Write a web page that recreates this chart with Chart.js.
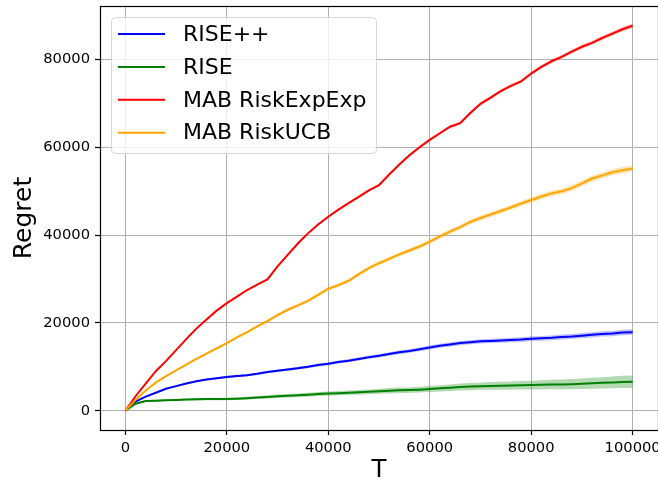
<!DOCTYPE html>
<html>
<head>
<meta charset="utf-8">
<script src="https://cdn.jsdelivr.net/npm/chart.js@4.4.0/dist/chart.umd.min.js"></script>
<style>
  html, body { margin: 0; padding: 0; background: #fff; }
  #regretChart { display: block; }
</style>
</head>
<body>
<canvas id="regretChart" width="658" height="482"></canvas>
<script>
// horizon T where the cumulative regret is logged
const T = [0, 2000, 4000, 6000, 8000, 10000, 12000, 14000, 16000, 18000,
           20000, 22000, 24000, 26000, 28000, 30000, 32000, 34000, 36000, 38000,
           40000, 42000, 44000, 46000, 48000, 50000, 52000, 54000, 56000, 58000,
           60000, 62000, 64000, 66000, 68000, 70000, 72000, 74000, 76000, 78000,
           80000, 82000, 84000, 86000, 88000, 90000, 92000, 94000, 96000, 98000, 100000];

const xTicks = [0, 20000, 40000, 60000, 80000, 100000];
const yTicks = [0, 20000, 40000, 60000, 80000];

// mean regret per algorithm
const risePlus = [0, 2100, 3200, 4100, 5000, 5600, 6200, 6700, 7100, 7400,
                  7700, 7900, 8100, 8400, 8800, 9100, 9400, 9700, 10000, 10400,
                  10700, 11100, 11400, 11800, 12200, 12500, 12900, 13300, 13600, 14000,
                  14400, 14800, 15100, 15400, 15600, 15800, 15900, 16000, 16100, 16200,
                  16400, 16500, 16600, 16800, 16900, 17100, 17300, 17500, 17600, 17800, 17900];
const rise = [0, 1600, 2200, 2300, 2400, 2450, 2550, 2600, 2650, 2650,
              2650, 2750, 2850, 3000, 3150, 3300, 3400, 3500, 3650, 3800,
              3900, 4000, 4100, 4200, 4300, 4450, 4550, 4650, 4700, 4800,
              4950, 5100, 5250, 5400, 5500, 5600, 5650, 5700, 5750, 5800,
              5850, 5900, 5950, 6000, 6050, 6150, 6250, 6350, 6450, 6550, 6600];
const riskExpExp = [0, 3300, 6200, 9000, 11300, 13800, 16300, 18700, 20800, 22800,
                    24500, 26000, 27500, 28700, 29900, 32900, 35500, 38100, 40400, 42400,
                    44200, 45800, 47300, 48700, 50200, 51400, 53800, 56100, 58200, 60000,
                    61700, 63200, 64700, 65500, 67800, 69900, 71300, 72800, 74000, 75000,
                    76800, 78300, 79600, 80600, 81800, 82900, 83800, 84900, 85900, 86900, 87700];
const riskUcb = [0, 2500, 4600, 6400, 7900, 9200, 10500, 11800, 13000, 14200,
                 15400, 16700, 17900, 19200, 20400, 21800, 23000, 24000, 25000, 26400,
                 27800, 28600, 29600, 31100, 32500, 33600, 34600, 35600, 36500, 37400,
                 38500, 39700, 40800, 41800, 43000, 43900, 44700, 45500, 46300, 47200,
                 48000, 48800, 49500, 50000, 50700, 51800, 52900, 53600, 54300, 54800, 55200];

// half-width of the shaded spread around each mean
const risePlusSpread = [0, 80, 120, 150, 170, 190, 200, 210, 220, 230,
                        240, 250, 260, 270, 280, 290, 300, 310, 320, 330,
                        340, 350, 360, 370, 380, 390, 400, 410, 420, 430,
                        440, 450, 460, 470, 480, 490, 500, 510, 520, 530,
                        540, 550, 560, 570, 580, 590, 600, 610, 620, 630, 640];
const riseSpread = [0, 100, 150, 180, 200, 220, 240, 250, 260, 270,
                    280, 300, 320, 340, 360, 380, 400, 420, 440, 460,
                    480, 500, 520, 540, 560, 580, 600, 620, 640, 660,
                    690, 720, 750, 780, 810, 840, 870, 900, 930, 960,
                    1000, 1040, 1080, 1120, 1160, 1200, 1250, 1300, 1350, 1400, 1450];
const riskExpExpSpread = [0, 60, 80, 100, 110, 120, 130, 140, 150, 160,
                          170, 180, 190, 200, 200, 210, 220, 230, 240, 250,
                          250, 260, 270, 280, 290, 300, 300, 310, 320, 330,
                          340, 340, 350, 360, 370, 380, 380, 390, 400, 400,
                          410, 420, 430, 440, 440, 450, 460, 470, 480, 490, 500];
const riskUcbSpread = [0, 100, 150, 180, 200, 220, 240, 260, 280, 300,
                       310, 320, 330, 340, 350, 360, 370, 380, 390, 400,
                       410, 420, 430, 440, 450, 460, 470, 480, 490, 500,
                       510, 520, 530, 540, 550, 560, 570, 580, 590, 600,
                       610, 620, 630, 640, 650, 660, 670, 680, 690, 700, 700];

const FONT = "'DejaVu Sans', sans-serif";

const series = [
    { label: 'RISE++',          color: '#0000ff', band: 'rgba(0, 0, 255, 0.25)',   mean: risePlus,   spread: risePlusSpread,   order: 3 },
    { label: 'RISE',            color: '#008000', band: 'rgba(0, 128, 0, 0.3)',    mean: rise,       spread: riseSpread,       order: 2 },
    { label: 'MAB RiskExpExp',  color: '#ff0000', band: 'rgba(255, 0, 0, 0.25)',   mean: riskExpExp, spread: riskExpExpSpread, order: 1 },
    { label: 'MAB RiskUCB',     color: '#ffa500', band: 'rgba(255, 165, 0, 0.3)',  mean: riskUcb,    spread: riskUcbSpread,    order: 0 }
];

function toPoints(values, spread, sign) {
    return values.map((v, i) => ({ x: T[i], y: v + sign * spread[i] }));
}

const datasets = [];
series.forEach(s => {
    // lower edge, then upper edge filled back down to it
    datasets.push({
        data: toPoints(s.mean, s.spread, -1),
        borderWidth: 0, pointRadius: 0, fill: false, order: 20 + s.order
    });
    datasets.push({
        data: toPoints(s.mean, s.spread, 1),
        borderWidth: 0, pointRadius: 0, fill: '-1', backgroundColor: s.band, order: 20 + s.order
    });
});
series.forEach(s => {
    datasets.push({
        label: s.label,
        data: toPoints(s.mean, s.spread, 0),
        borderColor: s.color,
        borderWidth: 2,
        pointRadius: 0,
        tension: 0,
        fill: false,
        order: s.order
    });
});

// white page + black box around the plot area
const framePlugin = {
    id: 'frame',
    beforeDraw(chart) {
        const ctx = chart.ctx;
        ctx.save();
        ctx.fillStyle = '#fff';
        ctx.fillRect(0, 0, chart.width, chart.height);
        ctx.restore();
    },
    afterDatasetsDraw(chart) {
        const { left, top, right, bottom } = chart.chartArea;
        const ctx = chart.ctx;
        ctx.save();
        ctx.strokeStyle = '#000';
        ctx.lineWidth = 1.2;
        ctx.strokeRect(left + 0.5, top + 0.5, right - left, bottom - top);
        ctx.restore();
    }
};

// matplotlib-like legend box in the upper left
const legendPlugin = {
    id: 'boxLegend',
    afterDraw(chart) {
        const ctx = chart.ctx;
        const { left, top } = chart.chartArea;
        const bx = left + 11.5, by = top + 11.5, bw = 265, bh = 136, r = 4;
        ctx.save();
        ctx.beginPath();
        ctx.moveTo(bx + r, by);
        ctx.arcTo(bx + bw, by, bx + bw, by + bh, r);
        ctx.arcTo(bx + bw, by + bh, bx, by + bh, r);
        ctx.arcTo(bx, by + bh, bx, by, r);
        ctx.arcTo(bx, by, bx + bw, by, r);
        ctx.closePath();
        ctx.fillStyle = 'rgba(255, 255, 255, 0.8)';
        ctx.fill();
        ctx.strokeStyle = 'rgba(204, 204, 204, 0.8)';
        ctx.lineWidth = 1;
        ctx.stroke();

        ctx.font = '22px ' + FONT;
        ctx.textBaseline = 'middle';
        ctx.textAlign = 'left';
        series.forEach((s, i) => {
            const y = top + 28 + i * 32.9;
            ctx.strokeStyle = s.color;
            ctx.lineWidth = 2;
            ctx.beginPath();
            ctx.moveTo(left + 18, y);
            ctx.lineTo(left + 65, y);
            ctx.stroke();
            ctx.fillStyle = '#000';
            ctx.fillText(s.label, left + 83, y + 1);
        });
        ctx.restore();
    }
};

const tickFont = { family: FONT, size: 14.7 };

new Chart(document.getElementById('regretChart'), {
    type: 'line',
    data: { datasets: datasets },
    plugins: [framePlugin, legendPlugin],
    options: {
        responsive: false,
        animation: false,
        devicePixelRatio: 1,
        layout: { padding: { top: 6, right: 0, bottom: 0, left: 0 } },
        plugins: {
            legend: { display: false },
            tooltip: { enabled: false }
        },
        scales: {
            x: {
                type: 'linear',
                min: -5000,
                max: 105000,
                afterBuildTicks: s => { s.ticks = xTicks.map(v => ({ value: v })); },
                afterFit: s => { s.height = 52; s.paddingLeft = 0; s.paddingRight = 0; },
                ticks: { callback: v => String(v), font: tickFont, color: '#000', padding: 4, maxRotation: 0, autoSkip: false },
                grid: { color: '#b0b0b0', lineWidth: 1, tickLength: 5, tickColor: '#000', tickWidth: 1.2 },
                border: { display: false },
                title: { display: true, text: 'T', color: '#000', font: { family: FONT, size: 24.5, lineHeight: 1 }, padding: { top: 0, bottom: -1 } }
            },
            y: {
                type: 'linear',
                min: -4390,
                max: 92190,
                afterBuildTicks: s => { s.ticks = yTicks.map(v => ({ value: v })); },
                afterFit: s => { s.width = 100; s.paddingTop = 0; s.paddingBottom = 0; },
                ticks: { callback: v => String(v), font: tickFont, color: '#000', padding: 5, autoSkip: false },
                grid: { color: '#b0b0b0', lineWidth: 1, tickLength: 5, tickColor: '#000', tickWidth: 1.2 },
                border: { display: false },
                title: { display: true, text: 'Regret', color: '#000', font: { family: FONT, size: 25, lineHeight: 1 }, padding: { top: 12, bottom: 0 } }
            }
        }
    }
});
</script>
</body>
</html>
